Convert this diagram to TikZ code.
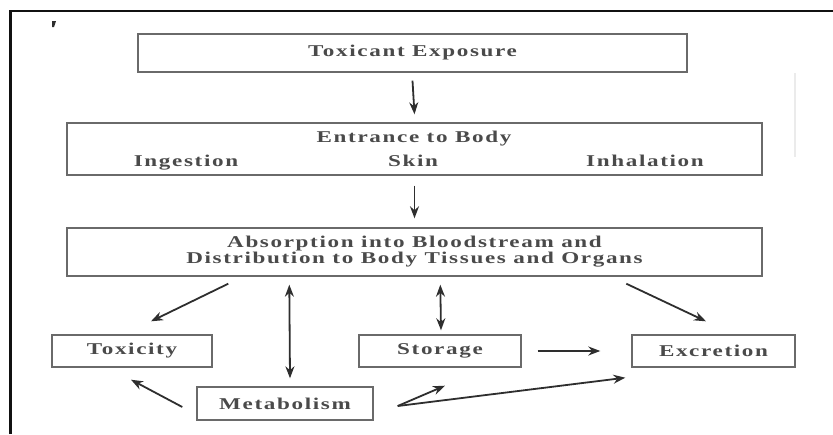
\documentclass[tikz,border=0pt]{standalone}
\usepackage{fontspec}
\setmainfont{Liberation Serif}[FakeStretch=1.4,LetterSpace=10]
\usepackage{tikz}
\usetikzlibrary{positioning,arrows.meta,calc}
\definecolor{boxline}{HTML}{6A6A6A}
\definecolor{ink}{HTML}{2E2E2E}
\definecolor{txt}{HTML}{4A4A4A}
\definecolor{framec}{HTML}{111111}

\begin{document}
\begin{tikzpicture}[x=1pt,y=-1pt,
    box/.style={draw=boxline, line width=1.4pt, inner sep=0pt, text=txt, font=\fontsize{16.5}{14}\selectfont\bfseries, align=center},
    lbl/.style={text=txt, font=\fontsize{16.5}{14}\selectfont\bfseries, inner sep=0pt, anchor=base},
    arr/.style={draw=ink, line width=1.8pt, -{Stealth[length=12pt,width=9pt]}},
    darr/.style={draw=ink, line width=1.8pt, {Stealth[length=12pt,width=9pt]}-{Stealth[length=12pt,width=9pt]}}]
  \useasboundingbox (0,0) rectangle (833,434);
  \draw[framec, line width=2.4pt] (10.5,434) -- (10.5,11) -- (833,11);
  \fill[ink] (52,21) -- (56,21) -- (54,27) -- (52,27) -- cycle;
  \draw[black!8, line width=2pt] (795,73) -- (795,157);

  \node[box, minimum width=549pt, minimum height=38pt] (expo) at (412.5,53) {Toxicant Exposure};
  \node[box, minimum width=695pt, minimum height=52pt] (entr) at (414.5,149) {};
  \node[lbl] (entrt) at (414,142) {Entrance to Body};
  \node[lbl] (inge) at (186,166) {Ingestion};
  \node[lbl] (skin) at (413,166) {Skin};
  \node[lbl] (inha) at (645,166) {Inhalation};
  \node[box, minimum width=695pt, minimum height=48pt] (absb) at (414.5,252)
    {Absorption into Bloodstream and\\Distribution to Body Tissues and Organs};
  \node[box, minimum width=160pt, minimum height=32pt] (toxi) at (132,351) {Toxicity};
  \node[box, minimum width=162pt, minimum height=32pt] (stor) at (440,351) {Storage};
  \node[box, minimum width=163pt, minimum height=32pt] (excr) at (713.5,351) {Excretion};
  \node[box, minimum width=176pt, minimum height=33pt] (meta) at (285,403.5) {Metabolism};

  \draw[arr] ($(expo.south)+(0,8)$) -- ($(entr.north)+(0,-8)$);
  \draw[arr] ($(entr.south)+(0,10)$) -- ($(absb.north)+(0,-9)$);
  \draw[arr] ($(absb.south west)+(162,7)$) -- ($(toxi.north)+(19,-13)$);
  \draw[darr] ($(absb.south west)+(223,8)$) -- ($(meta.north)+(5,-8)$);
  \draw[darr] ($(absb.south west)+(374,8)$) -- ($(stor.north)+(1,-4)$);
  \draw[arr] ($(absb.south west)+(560,7)$) -- ($(excr.north)+(-7.5,-13)$);
  \draw[arr] ($(stor.east)+(16,0)$) -- ($(excr.west)+(-31,0)$);
  \draw[arr] ($(meta.west)+(-14,3.5)$) -- ($(toxi.south)+(-1,12)$);
  \coordinate (mfork) at ($(meta.east)+(24,2.5)$);
  \draw[arr] (mfork) -- ($(stor.south)+(5,18)$);
  \draw[arr] (mfork) -- ($(excr.south west)+(-6,10)$);
\end{tikzpicture}
\end{document}
